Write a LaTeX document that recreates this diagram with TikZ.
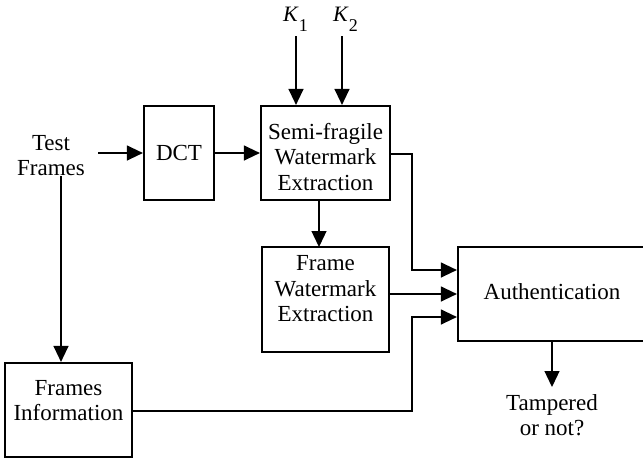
\documentclass[tikz,border=0pt]{standalone}
\usepackage{fontspec}
\setmainfont{Liberation Serif}
\usetikzlibrary{arrows.meta}
\begin{document}
\begin{tikzpicture}[x=1pt,y=-1pt,
  every node/.style={font=\fontsize{23}{25.5}\selectfont},
  heavybox/.style={draw, line width=2.2pt, inner sep=0pt},
  lightbox/.style={draw, line width=1.4pt, inner sep=0pt},
  txt/.style={align=center, inner sep=0pt},
  keylabel/.style={inner sep=0pt, font=\fontsize{22}{24}\selectfont},
  conn/.style={line width=1.3pt, -{Triangle[length=16pt,width=15pt]}}]
\useasboundingbox (0,0) rectangle (643,461);

% processing blocks
\node[heavybox, minimum width=70pt, minimum height=94pt] (dct) at (179,153) {};
\node[txt] (dcttext) at (179,153) {DCT};
\node[heavybox, minimum width=129pt, minimum height=94pt] (sf) at (325.5,153) {};
\node[txt] (sftext) at (325.5,157) {Semi-fragile\\Watermark\\Extraction};
\node[lightbox, minimum width=127pt, minimum height=105pt] (fwe) at (325.5,299.5) {};
\node[txt] (fwetext) at (325.5,289) {Frame\\Watermark\\Extraction};
\node[heavybox, minimum width=188pt, minimum height=94pt] (auth) at (552,294) {};
\node[txt] (authtext) at (552,292) {Authentication};
\node[heavybox, minimum width=127pt, minimum height=94pt] (finfo) at (68.5,410) {};
\node[txt] (finfotext) at (68.5,400.5) {Frames\\Information};

% inputs and output labels
\node[txt] (test) at (51,155.5) {Test\\Frames};
\node[txt] (tamp) at (552,415) {Tampered\\or not?};
\node[keylabel, anchor=base west] (k1) at (283,21) {\textit{K}\raisebox{-10pt}{\fontsize{18}{20}\selectfont 1}};
\node[keylabel, anchor=base west] (k2) at (333,21) {\textit{K}\raisebox{-10pt}{\fontsize{18}{20}\selectfont 2}};

% connectors
\coordinate (testout) at (98,153);
\coordinate (testdown) at (61,176);
\coordinate (k1top) at (296,36);
\coordinate (k2top) at (342,36);
\draw[conn] (testout) -- (dct.west);
\draw[conn] (dct.east) -- (sf.west);
\draw[conn] (k1top) -- (k1top |- sf.north);
\draw[conn] (k2top) -- (k2top |- sf.north);
\draw[conn] (319,200) -- (319,247);
\draw[conn] (sf.east |- 0,154) -| (412,270) -- (auth.west |- 0,270);
\draw[conn] (fwe.east |- 0,294) -- (auth.west |- 0,294);
\draw[conn] (finfo.east |- 0,411) -| (412,317) -- (auth.west |- 0,317);
\draw[conn] (testdown) -- (testdown |- finfo.north);
\draw[conn] (auth.south) -- (552,387);
\end{tikzpicture}
\end{document}
